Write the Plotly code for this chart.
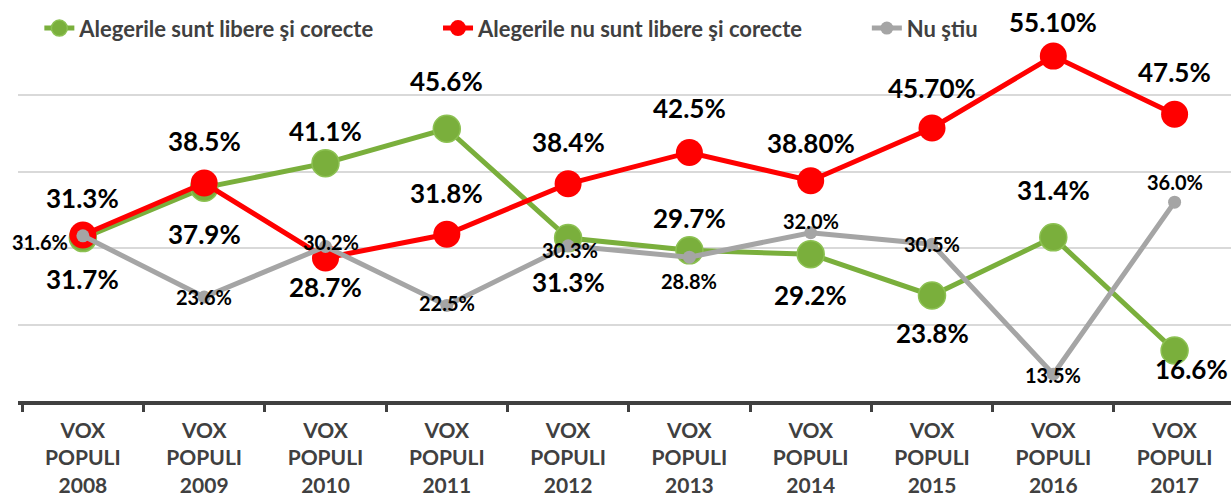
import plotly.graph_objects as go

years = ["2008", "2009", "2010", "2011", "2012", "2013", "2014", "2015", "2016", "2017"]
tick_labels = ["VOX<br>POPULI<br>" + y for y in years]

series_names = ["Alegerile sunt libere şi corecte", "Alegerile nu sunt libere şi corecte", "Nu ştiu"]
libere = [31.3, 37.9, 41.1, 45.6, 31.3, 29.7, 29.2, 23.8, 31.4, 16.6]
nu_libere = [31.7, 38.5, 28.7, 31.8, 38.4, 42.5, 38.8, 45.7, 55.1, 47.5]
nu_stiu = [31.6, 23.6, 30.2, 22.5, 30.3, 28.8, 32.0, 30.5, 13.5, 36.0]

libere_labels = ["31.3%", "37.9%", "41.1%", "45.6%", "31.3%", "29.7%", "29.2%", "23.8%", "31.4%", "16.6%"]
nu_libere_labels = ["31.7%", "38.5%", "28.7%", "31.8%", "38.4%", "42.5%", "38.80%", "45.70%", "55.10%", "47.5%"]
nu_stiu_labels = ["31.6%", "23.6%", "30.2%", "22.5%", "30.3%", "28.8%", "32.0%", "30.5%", "13.5%", "36.0%"]

# label offsets in pixels (dx, dy) - styling only
libere_off = [(0, 40), (0, -46), (0, 32), (0, 48), (0, -44), (0, 32), (0, -41), (0, -38), (0, 47), (17, -18)]
nu_libere_off = [(0, -44), (0, 42), (0, -29), (0, 41), (0, 42), (0, 44), (0, 38), (0, 40), (0, 34), (0, 42)]
nu_stiu_off = [(-43, -6), (0, 0), (5, 5), (0, 2), (2, -4), (0, -24), (0, 12), (0, 0), (0, -1), (0, 20)]

GREEN = "#7aaf3c"
RED = "#ff0000"
GRAY = "#a5a5a5"
AXIS = "#404040"
FONT = "Lato"
PAD = "\u00a0" * 11

fig = go.Figure()
fig.add_trace(go.Scatter(x=years, y=libere, name=series_names[0] + PAD, mode="lines+markers",
                         line=dict(color=GREEN, width=5),
                         marker=dict(size=27, color=GREEN, line=dict(color="#8cc152", width=1.5))))
fig.add_trace(go.Scatter(x=years, y=nu_libere, name=series_names[1] + PAD, mode="lines+markers",
                         line=dict(color=RED, width=5),
                         marker=dict(size=27, color=RED)))
fig.add_trace(go.Scatter(x=years, y=nu_stiu, name=series_names[2], mode="lines+markers",
                         line=dict(color=GRAY, width=5),
                         marker=dict(size=13, color=GRAY)))

def add_labels(vals, labels, offs, size):
    for i, (v, t, (dx, dy)) in enumerate(zip(vals, labels, offs)):
        fig.add_annotation(x=i, y=v, xref="x", yref="y", text=t, showarrow=False,
                           xshift=dx, yshift=dy,
                           font=dict(family=FONT, size=size, color="#000000", weight="bold"))

add_labels(libere, libere_labels, libere_off, 26)
add_labels(nu_libere, nu_libere_labels, nu_libere_off, 26)
add_labels(nu_stiu, nu_stiu_labels, nu_stiu_off, 20)

fig.update_layout(
    width=1231, height=497,
    margin=dict(l=18, r=0, t=18, b=96),
    plot_bgcolor="white", paper_bgcolor="white",
    showlegend=True,
    legend=dict(orientation="h", x=0.0176, xanchor="left", y=1.028, yanchor="top",
                font=dict(family=FONT, size=22, color=AXIS, weight="bold"),
                bgcolor="rgba(0,0,0,0)"),
    xaxis=dict(type="category", categoryorder="array", categoryarray=years,
               range=[-0.535, 9.465], tickvals=years, ticktext=tick_labels,
               tickfont=dict(family=FONT, size=21, color=AXIS, weight="bold"),
               ticks="outside", tickson="boundaries", ticklen=7, tickwidth=3,
               tickcolor=AXIS, ticklabelstandoff=8,
               showline=True, linecolor=AXIS, linewidth=3.5, showgrid=False,
               zeroline=False),
    yaxis=dict(range=[10, 60.08], tickvals=[20, 30, 40, 50, 60], showticklabels=False,
               showgrid=True, gridcolor="#d9d9d9", gridwidth=1.5, zeroline=False,
               showline=False, ticks=""),
)

fig.write_html("out.html", config={"displayModeBar": False},
               post_script="document.body.style.margin='0';")
